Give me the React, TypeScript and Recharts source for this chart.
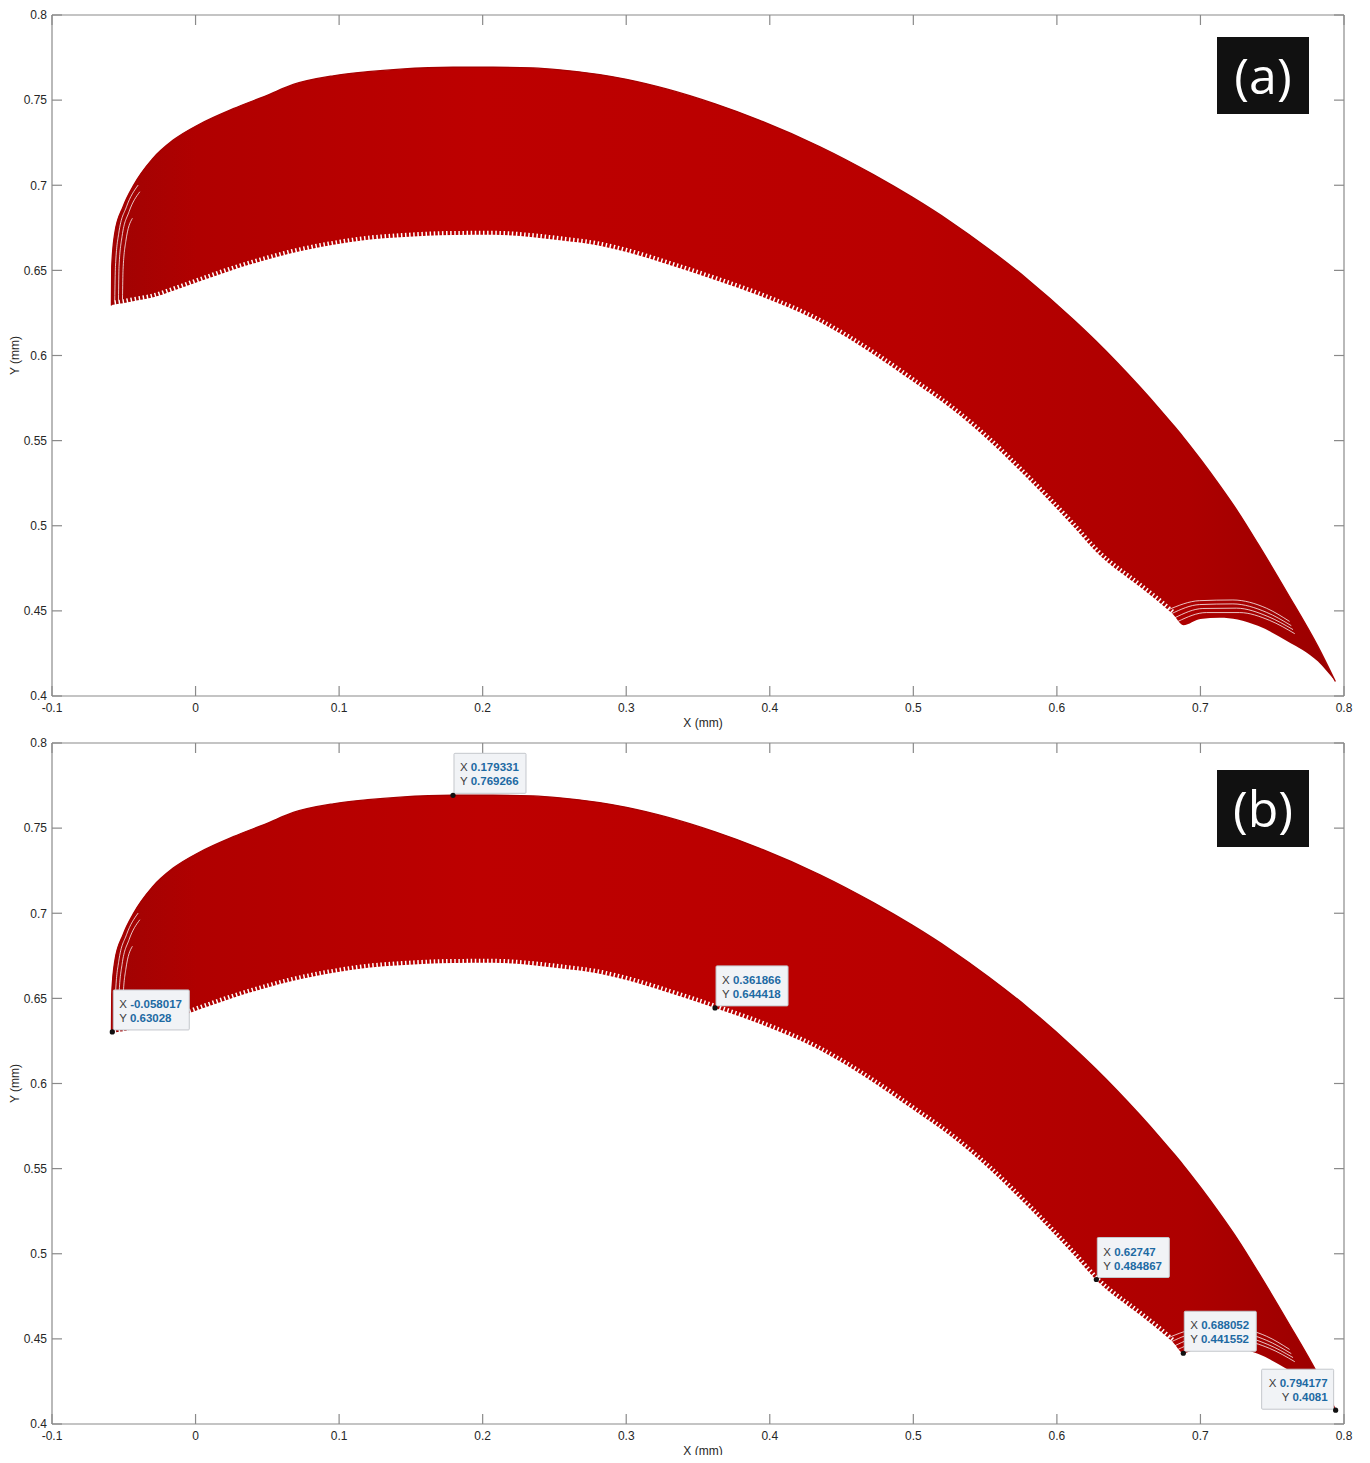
import React from 'react';
import { ComposedChart, Area, Line, Scatter, XAxis, YAxis } from 'recharts';

// Sampled outline of the swept tool-path band (mm)
const X_MM = [
  -0.0586, -0.0584, -0.0563, -0.0505, -0.0435, -0.03, -0.0156, 0.003, 0.0263, 0.0495,
  0.0681, 0.096, 0.12, 0.1426, 0.1793, 0.2073, 0.235, 0.2537, 0.2815, 0.3002,
  0.328, 0.3619, 0.3925, 0.435, 0.4725, 0.4992, 0.5259, 0.5525, 0.5792, 0.6114,
  0.627, 0.6579, 0.672, 0.681, 0.688, 0.7, 0.7134, 0.7259, 0.74, 0.7605, 0.7819, 0.794,
];
const Y_UPPER = [
  0.6293, 0.6523, 0.6718, 0.6874, 0.6995, 0.7155, 0.7265, 0.736, 0.745, 0.7527,
  0.7592, 0.7643, 0.7667, 0.7682, 0.7693, 0.7693, 0.7689, 0.7678, 0.765, 0.7622,
  0.7566, 0.7478, 0.7383, 0.7226, 0.7061, 0.693, 0.6786, 0.6626, 0.645, 0.6212,
  0.6087, 0.5815, 0.5681, 0.5592, 0.5521, 0.5391, 0.5237, 0.5085, 0.4895, 0.4605, 0.429, 0.4085,
];
const Y_LOWER = [
  0.6293, 0.6296, 0.63, 0.6307, 0.6319, 0.634, 0.638, 0.6436, 0.6504, 0.6562,
  0.6603, 0.665, 0.668, 0.6695, 0.6708, 0.6709, 0.6695, 0.6677, 0.6645, 0.6608,
  0.6538, 0.6444, 0.6352, 0.6195, 0.6005, 0.585, 0.569, 0.55, 0.528, 0.4995,
  0.4849, 0.464, 0.4545, 0.4478, 0.4416, 0.4452, 0.446, 0.445, 0.4412, 0.4322, 0.4202, 0.4085,
];

// Individual pass strands that stay separated near the ends of the band
const STRAND_LEFT_1 = [
  { x: -0.0563, y: 0.6319 }, { x: -0.0558, y: 0.6523 }, { x: -0.0535, y: 0.6718 },
  { x: -0.0481, y: 0.6874 }, { x: -0.04, y: 0.7001 },
];
const STRAND_LEFT_2 = [
  { x: -0.0537, y: 0.6325 }, { x: -0.0533, y: 0.6523 }, { x: -0.0512, y: 0.6699 },
  { x: -0.0463, y: 0.6845 }, { x: -0.0388, y: 0.6962 },
];
const STRAND_LEFT_3 = [
  { x: -0.0509, y: 0.633 }, { x: -0.0505, y: 0.6504 }, { x: -0.0486, y: 0.667 },
  { x: -0.044, y: 0.6806 },
];
const STRAND_RIGHT_1 = [
  { x: 0.6774, y: 0.4506 }, { x: 0.6994, y: 0.456 }, { x: 0.7226, y: 0.4564 },
  { x: 0.7459, y: 0.4516 }, { x: 0.7621, y: 0.4438 },
];
const STRAND_RIGHT_2 = [
  { x: 0.6797, y: 0.4483 }, { x: 0.6994, y: 0.4537 }, { x: 0.7226, y: 0.4541 },
  { x: 0.7459, y: 0.4492 }, { x: 0.7633, y: 0.4413 },
];
const STRAND_RIGHT_3 = [
  { x: 0.682, y: 0.4459 }, { x: 0.7017, y: 0.4514 }, { x: 0.725, y: 0.4516 },
  { x: 0.747, y: 0.4467 }, { x: 0.7645, y: 0.439 },
];
const STRAND_RIGHT_4 = [
  { x: 0.6843, y: 0.4438 }, { x: 0.7041, y: 0.449 }, { x: 0.7273, y: 0.449 },
  { x: 0.7482, y: 0.4444 }, { x: 0.7657, y: 0.4366 },
];
const STRANDS = [
  STRAND_LEFT_1, STRAND_LEFT_2, STRAND_LEFT_3,
  STRAND_RIGHT_1, STRAND_RIGHT_2, STRAND_RIGHT_3, STRAND_RIGHT_4,
];

// Data tips shown in panel (b)
const TIP_X = [-0.058017, 0.179331, 0.361866, 0.62747, 0.688052, 0.794177];
const TIP_Y = [0.63028, 0.769266, 0.644418, 0.484867, 0.441552, 0.4081];
const TIP_ALIGN = ['left', 'left', 'left', 'left', 'left', 'right'];

const X_TICKS = [-0.1, 0, 0.1, 0.2, 0.3, 0.4, 0.5, 0.6, 0.7, 0.8];
const Y_TICKS = [0.4, 0.45, 0.5, 0.55, 0.6, 0.65, 0.7, 0.75, 0.8];

const FONT = '"Liberation Sans", Arial, Helvetica, sans-serif';
const AXIS_GRAY = '#8a8a8a';
const TEXT_DARK = '#262626';
const TIP_BLUE = '#1d6aa3';

const bandRows = X_MM.map((x, i) => ({
  x,
  band: [Y_LOWER[i], Y_UPPER[i]],
  hi: Y_UPPER[i],
  teeth: x > -0.057 && x < 0.684 ? Y_LOWER[i] : null,
}));

const tipRows = TIP_X.map((x, i) => ({ x, y: TIP_Y[i], align: TIP_ALIGN[i] }));

const charW = (c: string) => {
  if (c >= '0' && c <= '9') return 0.556;
  if (c === '.') return 0.278;
  if (c === '-') return 0.333;
  if (c === ' ') return 0.278;
  if (c === 'X' || c === 'Y') return 0.667;
  return 0.58;
};
const textWidth = (s: string, size: number) =>
  s.split('').reduce((acc, c) => acc + charW(c) * size, 0);

const TIP_FONT = 11.5;

const DataTip = (props: any) => {
  const { cx, cy, payload } = props;
  if (cx == null || cy == null) return null;
  const xs = String(payload.x);
  const ys = String(payload.y);
  const lead = textWidth('X ', TIP_FONT);
  const valW = Math.max(textWidth(xs, TIP_FONT), textWidth(ys, TIP_FONT));
  const w = Math.round(lead + valW + 13);
  const h = 40;
  const right = payload.align === 'right';
  const left = right ? cx - 2 - w : cx + 1;
  const top = right ? cy - 1 - h : cy - 2 - h;
  const tx = right ? left + w - 6 : left + 6;
  const anchor = right ? 'end' : 'start';
  return (
    <g>
      <rect x={left} y={top} width={w} height={h} fill="#f1f3f6" stroke="#c4c7cc" strokeWidth={1} rx={1} />
      <text x={tx} y={top + 14} textAnchor={anchor} dominantBaseline="central" fontFamily={FONT} fontSize={TIP_FONT}>
        <tspan fill="#3c3c3c">X </tspan>
        <tspan fill={TIP_BLUE} fontWeight="bold">{xs}</tspan>
      </text>
      <text x={tx} y={top + 28} textAnchor={anchor} dominantBaseline="central" fontFamily={FONT} fontSize={TIP_FONT}>
        <tspan fill="#3c3c3c">Y </tspan>
        <tspan fill={TIP_BLUE} fontWeight="bold">{ys}</tspan>
      </text>
      <circle cx={cx} cy={cy} r={2.6} fill="#111" />
    </g>
  );
};

const XTitle = (props: any) => {
  const vb = props.viewBox || {};
  return (
    <text x={vb.x + vb.width / 2 + 5} y={vb.y + 27} textAnchor="middle" dominantBaseline="central"
      fontFamily={FONT} fontSize={12} fill={TEXT_DARK}>X (mm)</text>
  );
};

const YTitle = (props: any) => {
  const vb = props.viewBox || {};
  const x = vb.x + (vb.width || 0) - 37;
  const y = vb.y + vb.height / 2;
  return (
    <text x={x} y={y} transform={`rotate(-90, ${x}, ${y})`} textAnchor="middle" dominantBaseline="central"
      fontFamily={FONT} fontSize={12} fill={TEXT_DARK}>Y (mm)</text>
  );
};

const fmt = (v: number) => String(v);
const blank = () => '';

type PanelProps = { id: string; tag: string; height: number; top: number; tagTop: number; showTips: boolean };

const Panel = ({ id, tag, height, top, tagTop, showTips }: PanelProps) => {
  const axisLine = { stroke: AXIS_GRAY, strokeWidth: 1.2 };
  const tickStyle = { fill: TEXT_DARK, fontSize: 12, fontFamily: FONT };
  // plot area: x 52..1344, 681 px tall starting at `top`
  return (
    <div style={{ position: 'relative', width: 1370, height }}>
      <ComposedChart width={1370} height={height} data={bandRows}
        margin={{ top: top - 1, right: 25, bottom: height - top - 681 - 1, left: 51 }}>
        <defs>
          <linearGradient id={`fill-${id}`} x1="0" y1="0" x2="1" y2="0">
            <stop offset="0%" stopColor="#a00303" />
            <stop offset="7%" stopColor="#b00000" />
            <stop offset="30%" stopColor="#bd0000" />
            <stop offset="65%" stopColor="#b90000" />
            <stop offset="88%" stopColor="#ad0000" />
            <stop offset="100%" stopColor="#9a0000" />
          </linearGradient>
        </defs>
        <XAxis xAxisId="b" dataKey="x" type="number" domain={[-0.1, 0.8]} ticks={X_TICKS} interval={0}
          allowDataOverflow tickFormatter={fmt} height={1} tickSize={-10} tickMargin={17}
          axisLine={axisLine} tickLine={axisLine} tick={tickStyle} label={{ content: XTitle }} />
        <XAxis xAxisId="t" orientation="top" dataKey="x" type="number" domain={[-0.1, 0.8]} ticks={X_TICKS}
          interval={0} allowDataOverflow tickFormatter={blank} height={1} tickSize={-10} tickMargin={0}
          axisLine={axisLine} tickLine={axisLine} tick={tickStyle} />
        <YAxis yAxisId="l" type="number" domain={[0.4, 0.8]} ticks={Y_TICKS} interval={0} allowDataOverflow
          tickFormatter={fmt} width={1} tickSize={-10} tickMargin={15}
          axisLine={axisLine} tickLine={axisLine} tick={tickStyle} label={{ content: YTitle }} />
        <YAxis yAxisId="r" orientation="right" type="number" domain={[0.4, 0.8]} ticks={Y_TICKS} interval={0}
          allowDataOverflow tickFormatter={blank} width={1} tickSize={-10} tickMargin={0}
          axisLine={axisLine} tickLine={axisLine} tick={tickStyle} />

        <Area xAxisId="b" yAxisId="l" dataKey="band" type="monotoneX" fill={`url(#fill-${id})`} fillOpacity={1}
          stroke="none" isAnimationActive={false} activeDot={false} />
        <Line xAxisId="b" yAxisId="l" dataKey="hi" type="monotoneX" stroke="#a60000" strokeWidth={1.3}
          dot={false} activeDot={false} isAnimationActive={false} />
        <Line xAxisId="b" yAxisId="l" dataKey="teeth" type="monotoneX" stroke="#ffffff" strokeWidth={8}
          strokeDasharray="1.5 2.6" dot={false} activeDot={false} isAnimationActive={false} />
        {STRANDS.map((s, i) => (
          <Line key={`strand-${i}`} xAxisId="b" yAxisId="l" data={s} dataKey="y" type="monotoneX"
            stroke="#ffffff" strokeOpacity={0.85} strokeWidth={0.9} dot={false} activeDot={false}
            isAnimationActive={false} />
        ))}
        {showTips && (
          <Scatter xAxisId="b" yAxisId="l" data={tipRows} dataKey="y" shape={DataTip} isAnimationActive={false} />
        )}
      </ComposedChart>
      <div style={{
        position: 'absolute', left: 1217, top: tagTop, width: 92, height: 77, background: '#111',
        color: '#fff', fontFamily: '"Open Sans", "Noto Sans", sans-serif', fontSize: 50, lineHeight: '77px',
        textAlign: 'center',
      }}>{tag}</div>
    </div>
  );
};

export default function App() {
  return (
    <div style={{ margin: -8, width: 1370, height: 1463, background: '#fff', overflow: 'hidden' }}>
      <Panel id="a" tag="(a)" height={735} top={15} tagTop={37} showTips={false} />
      <Panel id="b" tag="(b)" height={728} top={8} tagTop={35} showTips={true} />
    </div>
  );
}
